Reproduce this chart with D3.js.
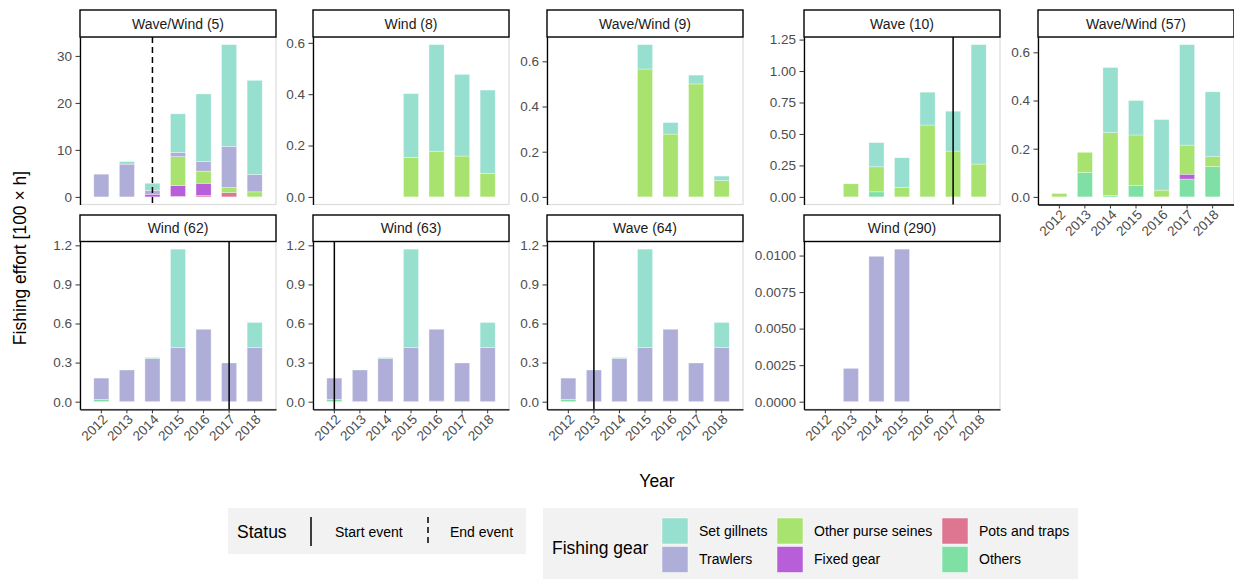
<!DOCTYPE html>
<html><head><meta charset="utf-8">
<script src="https://cdn.jsdelivr.net/npm/d3@7"></script>
<style>
body{margin:0;background:#fff;}
text{font-family:"Liberation Sans",Arial,Helvetica,sans-serif;}
</style>
</head><body>
<svg id="c" width="1234" height="579"></svg>
<script>
// ---------------- DATA ----------------
const years = [2012, 2013, 2014, 2015, 2016, 2017, 2018];
const gears = ["Set gillnets", "Trawlers", "Other purse seines", "Fixed gear", "Pots and traps", "Others"];
const gearColors = ["#97DFCF", "#AFAED9", "#A9E36F", "#B95ED9", "#DE7591", "#7FE0A6"];
const panelTitles = ["Wave/Wind (5)", "Wind (8)", "Wave/Wind (9)", "Wave (10)", "Wave/Wind (57)",
                     "Wind (62)", "Wind (63)", "Wave (64)", "Wind (290)"];
const eventYears = [2014, null, null, 2017, null, 2017, 2012, 2013, null];
const eventTypes = ["End event", null, null, "Start event", null, "Start event", "Start event", "Start event", null];

// values per panel (rows) per year (columns)
const setGillnets = [
  [0, 0.55, 1.49, 8.2, 14.36, 21.65, 20.04],
  [0, 0, 0, 0.248, 0.415, 0.318, 0.324],
  [0, 0, 0, 0.108, 0.051, 0.039, 0.02],
  [0, 0, 0.192, 0.237, 0.261, 0.317, 0.949],
  [0, 0, 0.27, 0.143, 0.293, 0.417, 0.269],
  [0, 0, 0.008, 0.755, 0, 0, 0.192],
  [0, 0, 0.008, 0.755, 0, 0, 0.192],
  [0, 0, 0.008, 0.755, 0, 0, 0.192],
  [0, 0, 0, 0, 0, 0, 0]
];
const trawlers = [
  [4.83, 6.97, 0.85, 0.92, 2.07, 8.76, 3.69],
  [0, 0, 0, 0, 0, 0, 0],
  [0, 0, 0, 0, 0, 0, 0],
  [0, 0, 0, 0, 0, 0, 0],
  [0, 0, 0, 0, 0, 0, 0],
  [0.163, 0.243, 0.331, 0.416, 0.551, 0.297, 0.416],
  [0.163, 0.243, 0.331, 0.416, 0.551, 0.297, 0.416],
  [0.163, 0.243, 0.331, 0.416, 0.551, 0.297, 0.416],
  [0, 0.00228, 0.00995, 0.01044, 0, 0, 0]
];
const otherPurseSeines = [
  [0, 0, 0, 6.14, 2.57, 1.07, 1.07],
  [0, 0, 0, 0.154, 0.178, 0.159, 0.092],
  [0, 0, 0, 0.566, 0.278, 0.5, 0.072],
  [0, 0.104, 0.199, 0.074, 0.571, 0.364, 0.261],
  [0.014, 0.084, 0.261, 0.21, 0.028, 0.121, 0.041],
  [0, 0, 0, 0, 0, 0, 0],
  [0, 0, 0, 0, 0, 0, 0],
  [0, 0, 0, 0, 0, 0, 0],
  [0, 0, 0, 0, 0, 0, 0]
];
const fixedGear = [
  [0, 0, 0.56, 2.31, 2.62, 0, 0],
  [0, 0, 0, 0, 0, 0, 0],
  [0, 0, 0, 0, 0, 0, 0],
  [0, 0, 0, 0, 0, 0, 0],
  [0, 0, 0, 0, 0, 0.02, 0],
  [0, 0, 0, 0, 0, 0, 0],
  [0, 0, 0, 0, 0, 0, 0],
  [0, 0, 0, 0, 0, 0, 0],
  [0, 0, 0, 0, 0, 0, 0]
];
const potsAndTraps = [
  [0, 0, 0, 0.1, 0.28, 0.92, 0],
  [0, 0, 0, 0, 0, 0, 0],
  [0, 0, 0, 0, 0, 0, 0],
  [0, 0, 0, 0, 0, 0, 0],
  [0, 0, 0, 0, 0, 0, 0],
  [0, 0, 0, 0, 0, 0, 0],
  [0, 0, 0, 0, 0, 0, 0],
  [0, 0, 0, 0, 0, 0, 0],
  [0, 0, 0, 0, 0, 0, 0]
];
const others = [
  [0, 0, 0, 0, 0, 0, 0],
  [0, 0, 0, 0, 0, 0, 0],
  [0, 0, 0, 0, 0, 0, 0],
  [0, 0, 0.04, 0, 0, 0, 0],
  [0, 0.101, 0.006, 0.047, 0, 0.074, 0.126],
  [0.018, 0, 0, 0, 0.005, 0, 0],
  [0.018, 0, 0, 0, 0.005, 0, 0],
  [0.018, 0, 0, 0, 0.005, 0, 0],
  [0, 0, 0, 0, 0, 0, 0]
];
const yTicks = [
  [0, 10, 20, 30],
  [0, 0.2, 0.4, 0.6],
  [0, 0.2, 0.4, 0.6],
  [0, 0.25, 0.5, 0.75, 1.0, 1.25],
  [0, 0.2, 0.4, 0.6],
  [0, 0.3, 0.6, 0.9, 1.2],
  [0, 0.3, 0.6, 0.9, 1.2],
  [0, 0.3, 0.6, 0.9, 1.2],
  [0, 0.0025, 0.005, 0.0075, 0.01]
];
const yTickFormats = ["d", ".1f", ".1f", ".2f", ".1f", ".1f", ".1f", ".1f", ".4f"];

// ---------------- LAYOUT ----------------
const byGear = [setGillnets, trawlers, otherPurseSeines, fixedGear, potsAndTraps, others];
const color = d3.scaleOrdinal().domain(gears).range(gearColors);
const svg = d3.select("#c");
const colLeft = [80, 313, 547, 804, 1038];
const panelW = 196;
const rowGeom = [
  {stripTop: 10, top: 37, bottom: 204.5},
  {stripTop: 215, top: 241.5, bottom: 409.3}
];
const tickColor = "#4D4D4D";

panelTitles.forEach((title, i) => {
  const col = i % 5, row = Math.floor(i / 5);
  const x0 = colLeft[col], x1 = x0 + panelW;
  const g = rowGeom[row];
  const hasXAxis = row === 1 || col === 4;

  const rows = years.map((yr, j) => {
    const r = {year: yr};
    gears.forEach((gn, k) => r[gn] = byGear[k][i][j]);
    return r;
  });
  const stacked = d3.stack().keys(gears.slice().reverse())(rows);
  const maxV = d3.max(rows, r => d3.sum(gears, gn => r[gn]));

  const x = d3.scaleBand().domain(years).range([x0, x1]).paddingInner(0.41).paddingOuter(0.54);
  const y = d3.scaleLinear().domain([-0.05 * maxV, 1.05 * maxV]).range([g.bottom, g.top]);

  const pg = svg.append("g");
  // panel background + light border
  pg.append("rect").attr("x", x0).attr("y", g.top).attr("width", panelW).attr("height", g.bottom - g.top)
    .attr("fill", "#fff").attr("stroke", "#DCDCDC").attr("stroke-width", 1.2);

  // bars
  stacked.forEach(layer => {
    pg.append("g").selectAll("rect")
      .data(layer.filter(d => d[1] - d[0] > 0))
      .join("rect")
      .attr("x", d => x(d.data.year))
      .attr("width", x.bandwidth())
      .attr("y", d => y(d[1]))
      .attr("height", d => y(d[0]) - y(d[1]))
      .attr("fill", color(layer.key))
      .attr("stroke", "#ffffff").attr("stroke-opacity", 0.55).attr("stroke-width", 0.6);
  });

  // event line
  if (eventYears[i] !== null) {
    const ex = x(eventYears[i]) + x.bandwidth() / 2;
    pg.append("line").attr("x1", ex).attr("x2", ex).attr("y1", g.top).attr("y2", g.bottom)
      .attr("stroke", "#000").attr("stroke-width", 1.5)
      .attr("stroke-dasharray", eventTypes[i] === "End event" ? "6,4" : null);
  }

  // y axis
  const ya = pg.append("g").attr("transform", `translate(${x0},0)`)
    .call(d3.axisLeft(y).tickValues(yTicks[i]).tickFormat(d3.format(yTickFormats[i]))
      .tickSize(4.5).tickSizeOuter(0).tickPadding(3.5));
  ya.select(".domain").attr("stroke", "#000").attr("stroke-width", 1.3);
  ya.selectAll(".tick line").attr("stroke", "#333").attr("stroke-width", 1);
  ya.selectAll(".tick text").attr("fill", tickColor).style("font-size", "13.5px")
    .style("font-family", '"Liberation Sans", Arial, sans-serif');

  // x axis
  if (hasXAxis) {
    const xa = pg.append("g").attr("transform", `translate(0,${g.bottom})`)
      .call(d3.axisBottom(x).tickSize(4).tickSizeOuter(0).tickFormat(d3.format("d")));
    xa.select(".domain").attr("stroke", "#000").attr("stroke-width", 1.3);
    xa.selectAll(".tick line").attr("stroke", "#333");
    xa.selectAll(".tick text")
      .attr("fill", tickColor).style("font-size", "13.5px")
      .style("font-family", '"Liberation Sans", Arial, sans-serif')
      .attr("text-anchor", "end").attr("dy", null).attr("y", null)
      .attr("transform", "translate(7,11) rotate(-45)");
  }

  // strip
  pg.append("rect").attr("x", x0).attr("y", g.stripTop).attr("width", panelW).attr("height", g.top - g.stripTop)
    .attr("fill", "#fff").attr("stroke", "#000").attr("stroke-width", 1.4);
  pg.append("text").attr("x", x0 + panelW / 2).attr("y", (g.stripTop + g.top) / 2)
    .attr("dy", "0.36em").attr("text-anchor", "middle").style("font-size", "14px").attr("fill", "#1A1A1A")
    .text(title);
});

// axis titles
svg.append("text").attr("x", 657).attr("y", 481).attr("dy", "0.35em").attr("text-anchor", "middle")
  .style("font-size", "17.5px").text("Year");
svg.append("text").attr("transform", "translate(20,258) rotate(-90)").attr("dy", "0.35em")
  .attr("text-anchor", "middle").style("font-size", "17.5px").text("Fishing effort [100 × h]");

// Status legend
const sl = svg.append("g");
sl.append("rect").attr("x", 228).attr("y", 508).attr("width", 298).attr("height", 46).attr("fill", "#F2F2F2");
sl.append("text").attr("x", 237).attr("y", 532).attr("dy", "0.35em").style("font-size", "17.5px").text("Status");
const statusKeys = [{label: "Start event", kx: 311, tx: 335, dash: null},
                    {label: "End event", kx: 428, tx: 450, dash: "6,4"}];
statusKeys.forEach(s => {
  sl.append("line").attr("x1", s.kx).attr("x2", s.kx).attr("y1", 517).attr("y2", 546)
    .attr("stroke", "#000").attr("stroke-width", 1.5).attr("stroke-dasharray", s.dash);
  sl.append("text").attr("x", s.tx).attr("y", 532).attr("dy", "0.35em").style("font-size", "14px").text(s.label);
});

// Fishing gear legend
const gl = svg.append("g");
gl.append("rect").attr("x", 543).attr("y", 508).attr("width", 535).attr("height", 72).attr("fill", "#F2F2F2");
gl.append("text").attr("x", 552).attr("y", 548).attr("dy", "0.35em").style("font-size", "17.5px").text("Fishing gear");
const keyCols = [662, 777, 942];
const keyRows = [518, 546.5];
gears.forEach((gn, k) => {
  const c = Math.floor(k / 2), r = k % 2;
  gl.append("rect").attr("x", keyCols[c]).attr("y", keyRows[r]).attr("width", 26).attr("height", 26)
    .attr("fill", color(gn)).attr("stroke", "#fff").attr("stroke-opacity", 0.6).attr("stroke-width", 0.8);
  gl.append("text").attr("x", keyCols[c] + 37).attr("y", keyRows[r] + 13).attr("dy", "0.35em")
    .style("font-size", "14px").text(gn);
});
</script>
</body></html>
